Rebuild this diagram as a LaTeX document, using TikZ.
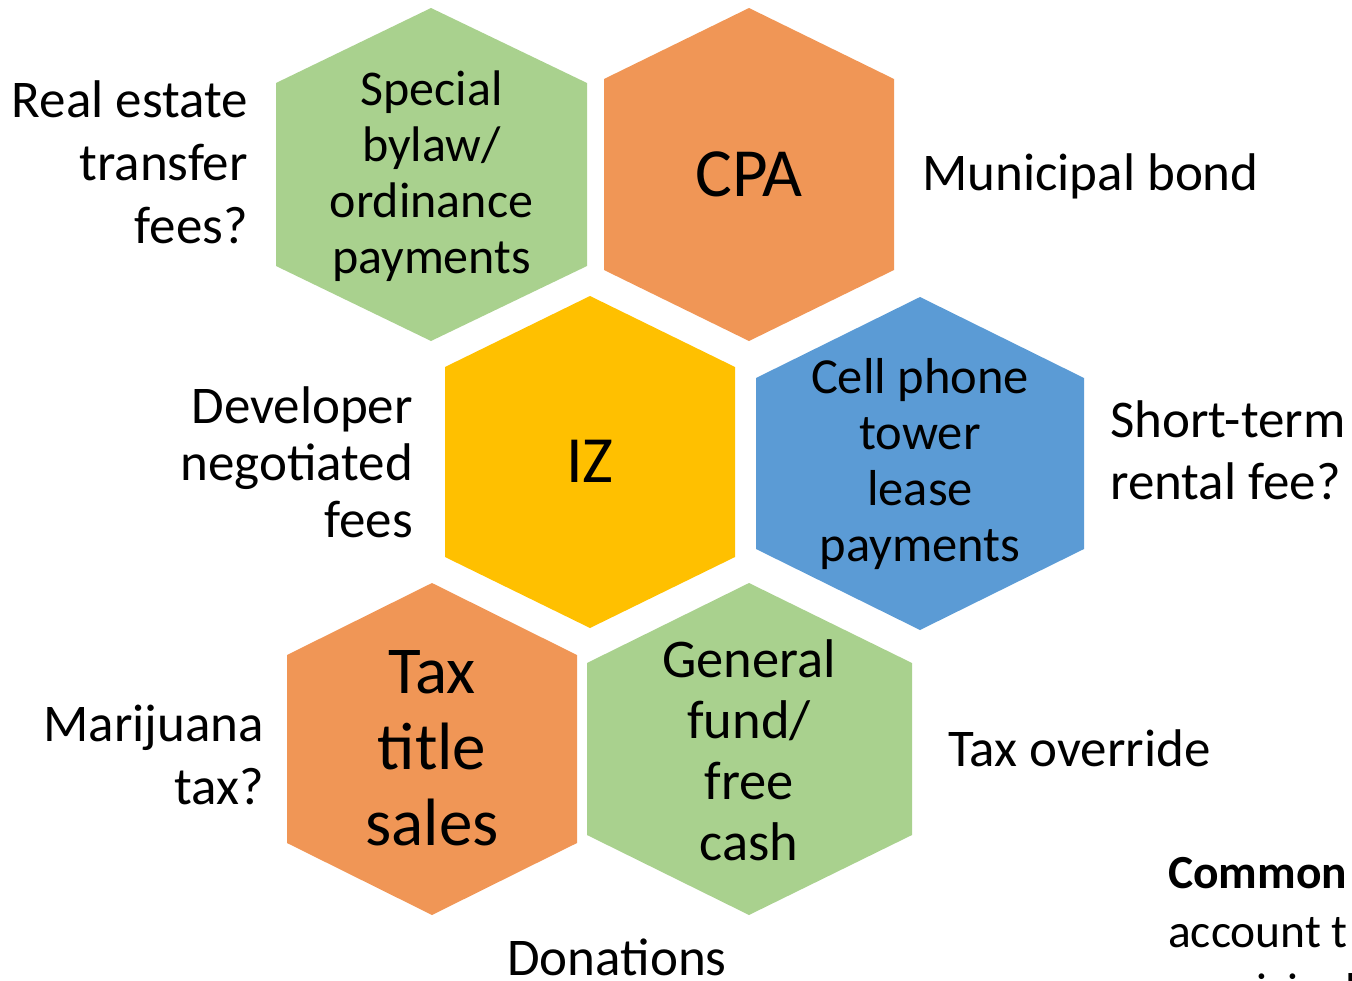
\documentclass[tikz,border=0pt]{standalone}
\usepackage{fontspec}
\setmainfont{Carlito}
\definecolor{hgreen}{HTML}{A9D18E}
\definecolor{horange}{HTML}{F09656}
\definecolor{hyellow}{HTML}{FFC000}
\definecolor{hblue}{HTML}{5B9BD5}
\begin{document}
\begin{tikzpicture}[x=1pt,y=-1pt,
  hextext/.style={align=center, inner sep=0pt, text=black},
  side/.style={inner sep=0pt, text=black, font=\fontsize{53}{63}\selectfont},
]
\useasboundingbox (0,0) rectangle (1352,980);
\clip (0,0) rectangle (1352,980);
% hexagons
\fill[hgreen]  (431,8) -- (587,83) -- (587,266) -- (431,341) -- (276,266) -- (276,83) -- cycle;
\fill[horange] (749,8) -- (894,79) -- (894,270) -- (749,341) -- (604,270) -- (604,79) -- cycle;
\fill[hyellow] (590,296) -- (735,367) -- (735,557) -- (590,628) -- (445,557) -- (445,367) -- cycle;
\fill[hblue]   (920,297) -- (1084,378) -- (1084,549) -- (920,630) -- (756,549) -- (756,378) -- cycle;
\fill[horange] (432,583) -- (577,655) -- (577,843) -- (432,915) -- (287,843) -- (287,655) -- cycle;
\fill[hgreen]  (749,583) -- (912,663) -- (912,835) -- (749,915) -- (587,835) -- (587,663) -- cycle;
% hexagon texts
\node[hextext, font=\fontsize{50}{56}\selectfont] (special) at (431.5,176) {Special\\bylaw/\\ordinance\\payments};
\node[hextext, font=\fontsize{69}{80}\selectfont] (cpa) at (749,174) {CPA};
\node[hextext, font=\fontsize{66}{80}\selectfont] (iz) at (590,461) {IZ};
\node[hextext, font=\fontsize{50.5}{56}\selectfont] (cell) at (920,464) {Cell phone\\tower\\lease\\payments};
\node[hextext, font=\fontsize{67}{76}\selectfont] (tax) at (432,748) {Tax\\title\\sales};
\node[hextext, font=\fontsize{54.5}{61}\selectfont] (general) at (749,750) {General\\fund/\\free\\cash};
% side labels
\node[side, align=right, anchor=east, font=\fontsize{53}{63}\selectfont] (realestate) at (248,162) {Real estate\\transfer\\fees?};
\node[side, anchor=base west] (bond) at (922,190) {Municipal bond};
\node[side, align=right, anchor=east, font=\fontsize{53}{57}\selectfont] (developer) at (413,462) {Developer\\negotiated\\fees};
\node[side, align=left, anchor=west, font=\fontsize{53}{62}\selectfont] (shortterm) at (1110,450) {Short-term\\rental fee?};
\node[side, align=right, anchor=east, font=\fontsize{53}{63}\selectfont] (marijuana) at (264,755) {Marijuana\\tax?};
\node[side, anchor=base west] (override) at (948,766) {Tax override};
\node[side, anchor=base] (donations) at (617,975) {Donations};
\node[inner sep=0pt, anchor=base west, font=\fontsize{47.5}{58}\selectfont\bfseries] (common) at (1168,888) {Common};
\node[inner sep=0pt, anchor=base west, font=\fontsize{47.5}{58}\selectfont] (account) at (1168,947) {account t};
\node[inner sep=0pt, anchor=base west, font=\fontsize{47.5}{58}\selectfont] (municipal) at (1168,1006) {municipal};
\end{tikzpicture}
\end{document}
